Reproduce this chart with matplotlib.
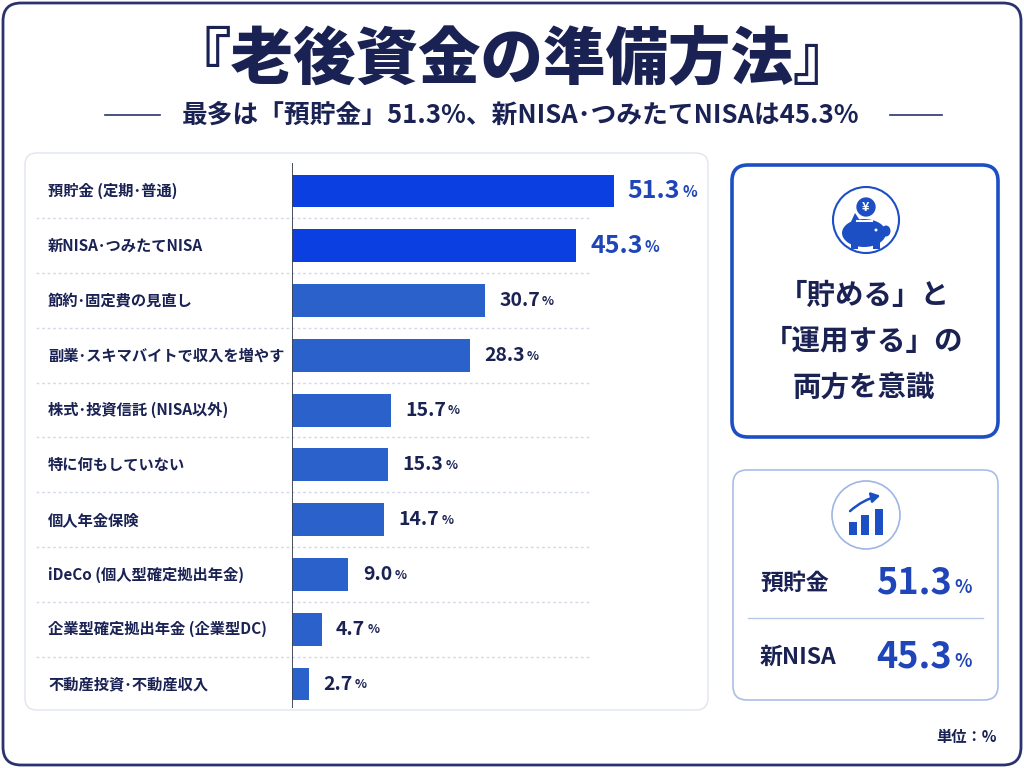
import numpy as np
import matplotlib
matplotlib.use('Agg')
import matplotlib.pyplot as plt
from matplotlib.patches import FancyBboxPatch, Circle, Ellipse, Rectangle, Polygon, FancyArrowPatch

plt.rcParams['font.family'] = ['Noto Sans CJK JP', 'DejaVu Sans']

# data
categories = [
    '預貯金 (定期･普通)',
    '新NISA･つみたてNISA',
    '節約･固定費の見直し',
    '副業･スキマバイトで収入を増やす',
    '株式･投資信託 (NISA以外)',
    '特に何もしていない',
    '個人年金保険',
    'iDeCo (個人型確定拠出年金)',
    '企業型確定拠出年金 (企業型DC)',
    '不動産投資･不動産収入',
]
values = [51.3, 45.3, 30.7, 28.3, 15.7, 15.3, 14.7, 9.0, 4.7, 2.7]
n_highlight = 2

title = '『老後資金の準備方法』'
subtitle = '最多は「預貯金」51.3%、新NISA･つみたてNISAは45.3%'
panel_lines = ['「貯める」と', '「運用する」の', '両方を意識']
summary_labels = ['預貯金', '新NISA']
summary_values = [51.3, 45.3]

NAVY = '#1a2254'
BLUE_HI = '#0b3fe2'
BLUE = '#2b61cb'
BLUE_TXT = '#1f45b8'
ICON = '#1d4fc4'

fig = plt.figure(figsize=(10.24, 7.68), dpi=100)
bg = fig.add_axes([0, 0, 1, 1])
bg.set_xlim(0, 1024)
bg.set_ylim(768, 0)
bg.axis('off')


def rbox(x0, y0, x1, y1, r, ec, lw, fc='white', z=1):
    p = FancyBboxPatch((x0, y0), x1 - x0, y1 - y0,
                       boxstyle='round,pad=0,rounding_size=%d' % r,
                       fc=fc, ec=ec, lw=lw, zorder=z)
    bg.add_patch(p)


# outer frame and panels
rbox(3, 3, 1021, 765, 18, '#2a3370', 2.0)
rbox(25, 153, 708, 710, 12, '#dfe4ee', 1.0)
rbox(732, 165, 998, 437, 16, ICON, 2.6)
rbox(733, 470, 998, 700, 14, '#a9bde6', 1.2)

# title
bg.text(512, 60, title, ha='center', va='center', fontsize=45,
        fontweight='heavy', color=NAVY)
bg.text(521, 115, subtitle, ha='center', va='center', fontsize=18.5,
        fontweight='bold', color=NAVY)
bg.plot([105, 160], [115, 115], color='#2a3370', lw=1.2)
bg.plot([890, 942], [115, 115], color='#2a3370', lw=1.2)

# piggy bank icon
bg.add_patch(Circle((866, 220), 33, fc='white', ec=ICON, lw=1.5, zorder=2))
bg.add_patch(Ellipse((864, 233), 44, 28, fc=ICON, ec='none', zorder=3))
bg.add_patch(Ellipse((886, 231), 9, 11, fc=ICON, ec='none', zorder=3))
bg.add_patch(Polygon([[850, 224], [855, 213], [861, 222]], fc=ICON, ec='none', zorder=3))
for lx in [851, 873]:
    bg.add_patch(Rectangle((lx, 240), 7, 9, fc=ICON, ec='none', zorder=3))
bg.plot([857, 872], [221, 221], color='white', lw=1.5, zorder=4)
bg.add_patch(Circle((866, 207), 10.5, fc=ICON, ec='white', lw=1.2, zorder=5))
bg.text(866, 207.5, '¥', ha='center', va='center', fontsize=9,
        fontweight='bold', color='white', zorder=6)
bg.add_patch(Circle((876, 230), 1.5, fc='white', ec='none', zorder=4))

for i, line in enumerate(panel_lines):
    bg.text(864, 296 + i * 46, line, ha='center', va='center', fontsize=20.5,
            fontweight='bold', color=NAVY)

# chart icon
bg.add_patch(Circle((866, 515), 34, fc='white', ec='#9fb5e5', lw=1.2, zorder=2))
for bx, by in [(849, 522), (861, 515), (875, 509)]:
    bg.add_patch(Rectangle((bx, by), 8, 535 - by, fc=ICON, ec='none', zorder=3))
bg.add_patch(FancyArrowPatch((848, 513), (883, 495), connectionstyle='arc3,rad=-0.15',
                             arrowstyle='-|>,head_length=5,head_width=3',
                             color=ICON, lw=1.8, zorder=3))

# summary rows
for i, (lab, v) in enumerate(zip(summary_labels, summary_values)):
    y = 583 + i * 74
    bg.text(760, y, lab, ha='left', va='center', fontsize=16.5,
            fontweight='bold', color=NAVY)
    t = bg.text(952, y, '%.1f' % v, ha='right', va='center', fontsize=26,
                fontweight='bold', color=BLUE_TXT)
    bg.annotate('%', xy=(1, 0.12), xycoords=t, xytext=(2, 0),
                textcoords='offset points', ha='left', va='bottom',
                fontsize=13, fontweight='bold', color=BLUE_TXT)
bg.plot([748, 983], [618, 618], color='#b9c8e8', lw=1.0)

bg.text(997, 737, '単位：%', ha='right', va='center', fontsize=11,
        fontweight='bold', color=NAVY)

# bar chart
px = 6.277  # pixels per percent
ax = fig.add_axes([292 / 1024, (768 - 708) / 768, (708 - 292) / 1024, (708 - 163) / 768])
ax.patch.set_alpha(0)
ax.set_xlim(0, (708 - 292) / px)
step = 54.8
ax.set_ylim(9 + (708 - 684) / step, -(191 - 163) / step)
ax.axis('off')

ypos = np.arange(len(values))
colors = [BLUE_HI if i < n_highlight else BLUE for i in ypos]
ax.barh(ypos, values, height=0.6, color=colors, zorder=2)
ax.axvline(0, color='#3b4152', lw=1.3, zorder=3)
ax.hlines(ypos[:-1] + 0.5, -(292 - 36) / px, (589 - 292) / px,
          colors='#d3dae7', lw=1.0, linestyles=(0, (2, 2)), clip_on=False, zorder=1)

for i, (cat, v) in enumerate(zip(categories, values)):
    ax.text(-(292 - 48) / px, i, cat, ha='left', va='center', fontsize=11,
            fontweight='bold', color=NAVY, clip_on=False)
    if i < n_highlight:
        t = ax.text(v + 2.2, i, '%.1f' % v, ha='left', va='center', fontsize=18,
                    fontweight='bold', color=BLUE_TXT)
        fs = 11
        c = BLUE_TXT
    else:
        t = ax.text(v + 2.3, i, '%.1f' % v, ha='left', va='center', fontsize=14,
                    fontweight='bold', color=NAVY)
        fs = 9
        c = NAVY
    ax.annotate('%', xy=(1, 0.12), xycoords=t, xytext=(1.5, 0),
                textcoords='offset points', ha='left', va='bottom',
                fontsize=fs, fontweight='bold', color=c)

fig.savefig('out.png', dpi=100, facecolor='white')
